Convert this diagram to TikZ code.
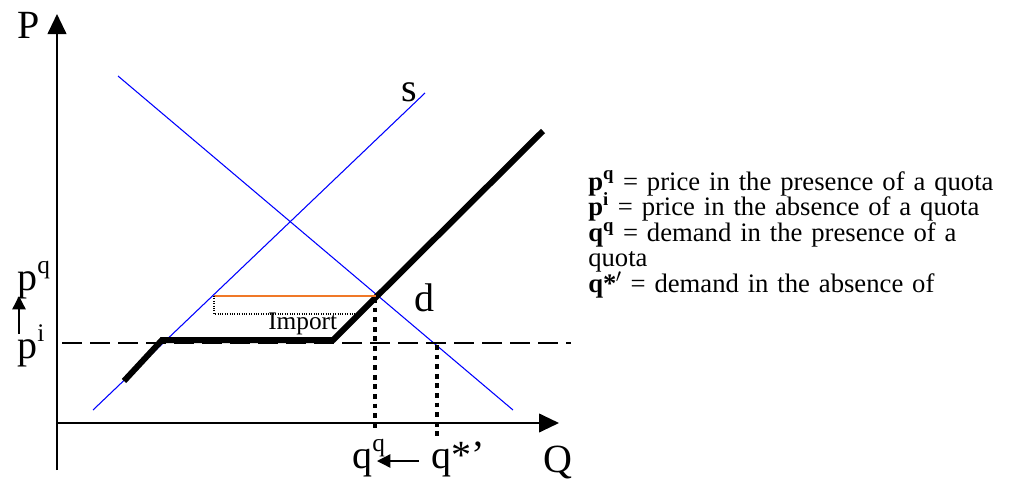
\documentclass[tikz,border=0pt]{standalone}
\usepackage{fontspec}
\setmainfont{Liberation Serif}
\usetikzlibrary{arrows.meta}
\definecolor{curveblue}{HTML}{0000FF}
\definecolor{quotaline}{HTML}{F07828}
\newcommand\upidx[1]{\raisebox{0.42em}{\fontsize{19}{19}\selectfont #1}}
\newcommand\keyfont{\fontsize{20}{19.2}\selectfont\setlength{\lineskiplimit}{-30pt}}

\begin{document}
\begin{tikzpicture}[x=0.75pt, y=-0.75pt,
  axis/.style={line width=1.5pt, -{Triangle[length=15pt, width=14pt]}},
  moveup/.style={line width=1pt, -{Triangle[length=10pt, width=10pt]}},
  curve/.style={draw=curveblue, line width=0.8pt},
  bold/.style={line width=4.5pt, line join=miter},
  world/.style={line width=1.9pt, dash pattern=on 15pt off 6pt},
  drop/.style={line width=3.6pt, dash pattern=on 3.6pt off 3.6pt},
  lab/.style={font=\fontsize{30}{32}\selectfont, inner sep=0pt, anchor=base west},
  key/.style={font=\keyfont, inner sep=0pt,
              anchor=base west, align=left, text width=430*0.75pt}
]
  \useasboundingbox (0,0) rectangle (1018,479);

  % axes
  \coordinate (O)  at (57,423);
  \coordinate (Pb) at (57,470);
  \coordinate (Pt) at (57,14);
  \coordinate (Qt) at (559,423);
  \draw[axis] (Pb) -- (Pt);
  \draw[axis] (O) -- (Qt);
  \node[lab] (P) at (17,38) {P};
  \node[lab] (Q) at (543,472) {Q};

  % supply and demand
  \coordinate (s0) at (93,410);
  \coordinate (s1) at (425,93);
  \coordinate (d0) at (118,76);
  \coordinate (d1) at (513,410);
  \draw[curve] (s0) -- (s1);
  \draw[curve] (d0) -- (d1);
  \node[lab] (s) at (401,101) {s};
  \node[lab] (d) at (414,311) {d};

  % world price
  \coordinate (w0) at (62,343);
  \coordinate (w1) at (571,343);
  \draw[world] (w0) -- (w1);

  % supply with quota
  \coordinate (k0) at (124,381);
  \coordinate (k1) at (162,340);
  \coordinate (k2) at (333,340);
  \coordinate (k3) at (543,131);
  \draw[bold] (k0) -- (k1) -- (k2) -- (k3);

  % quota price and import
  \coordinate (m0) at (214,296);
  \coordinate (m1) at (376,296);
  \coordinate (m2) at (214,314);
  \coordinate (m3) at (356,314);
  \draw[quotaline, line width=1.2pt] (m0) -- (m1);
  \draw[densely dotted, line width=0.8pt] (m0) -- (m2) -- (m3);
  \node[font=\fontsize{19}{19}\selectfont, inner sep=0pt, anchor=base west] (imp) at (268,329) {Import};

  % quantities
  \coordinate (qq0) at (375,298);
  \coordinate (qq1) at (375,431);
  \coordinate (qs0) at (437,345);
  \coordinate (qs1) at (437,437);
  \draw[drop] (qq0) -- (qq1);
  \draw[drop] (qs0) -- (qs1);

  % labels on the axes
  \node[lab] (pq) at (17,290) {p\upidx{q}};
  \node[lab] (pi) at (17,358) {p\upidx{i}};
  \coordinate (pa0) at (19,334);
  \coordinate (pa1) at (19,296);
  \draw[moveup] (pa0) -- (pa1);
  \node[lab] (qq) at (352,468) {q\upidx{q}};
  \node[lab] (qs) at (431,468) {q*'};
  \coordinate (qa0) at (419,461);
  \coordinate (qa1) at (377,461);
  \draw[moveup] (qa0) -- (qa1);

  % key
  \node[key] (key) at (588,190) {%
    \textbf{p\textsuperscript{q}} = price in the presence of a quota\\
    \textbf{p\textsuperscript{i}} = price in the absence of a quota\\
    \textbf{q\textsuperscript{q}} = demand in the presence of a\\
    quota\\
    \textbf{q*\kern-0.5pt$'$} = demand in the absence of};
\end{tikzpicture}
\end{document}
